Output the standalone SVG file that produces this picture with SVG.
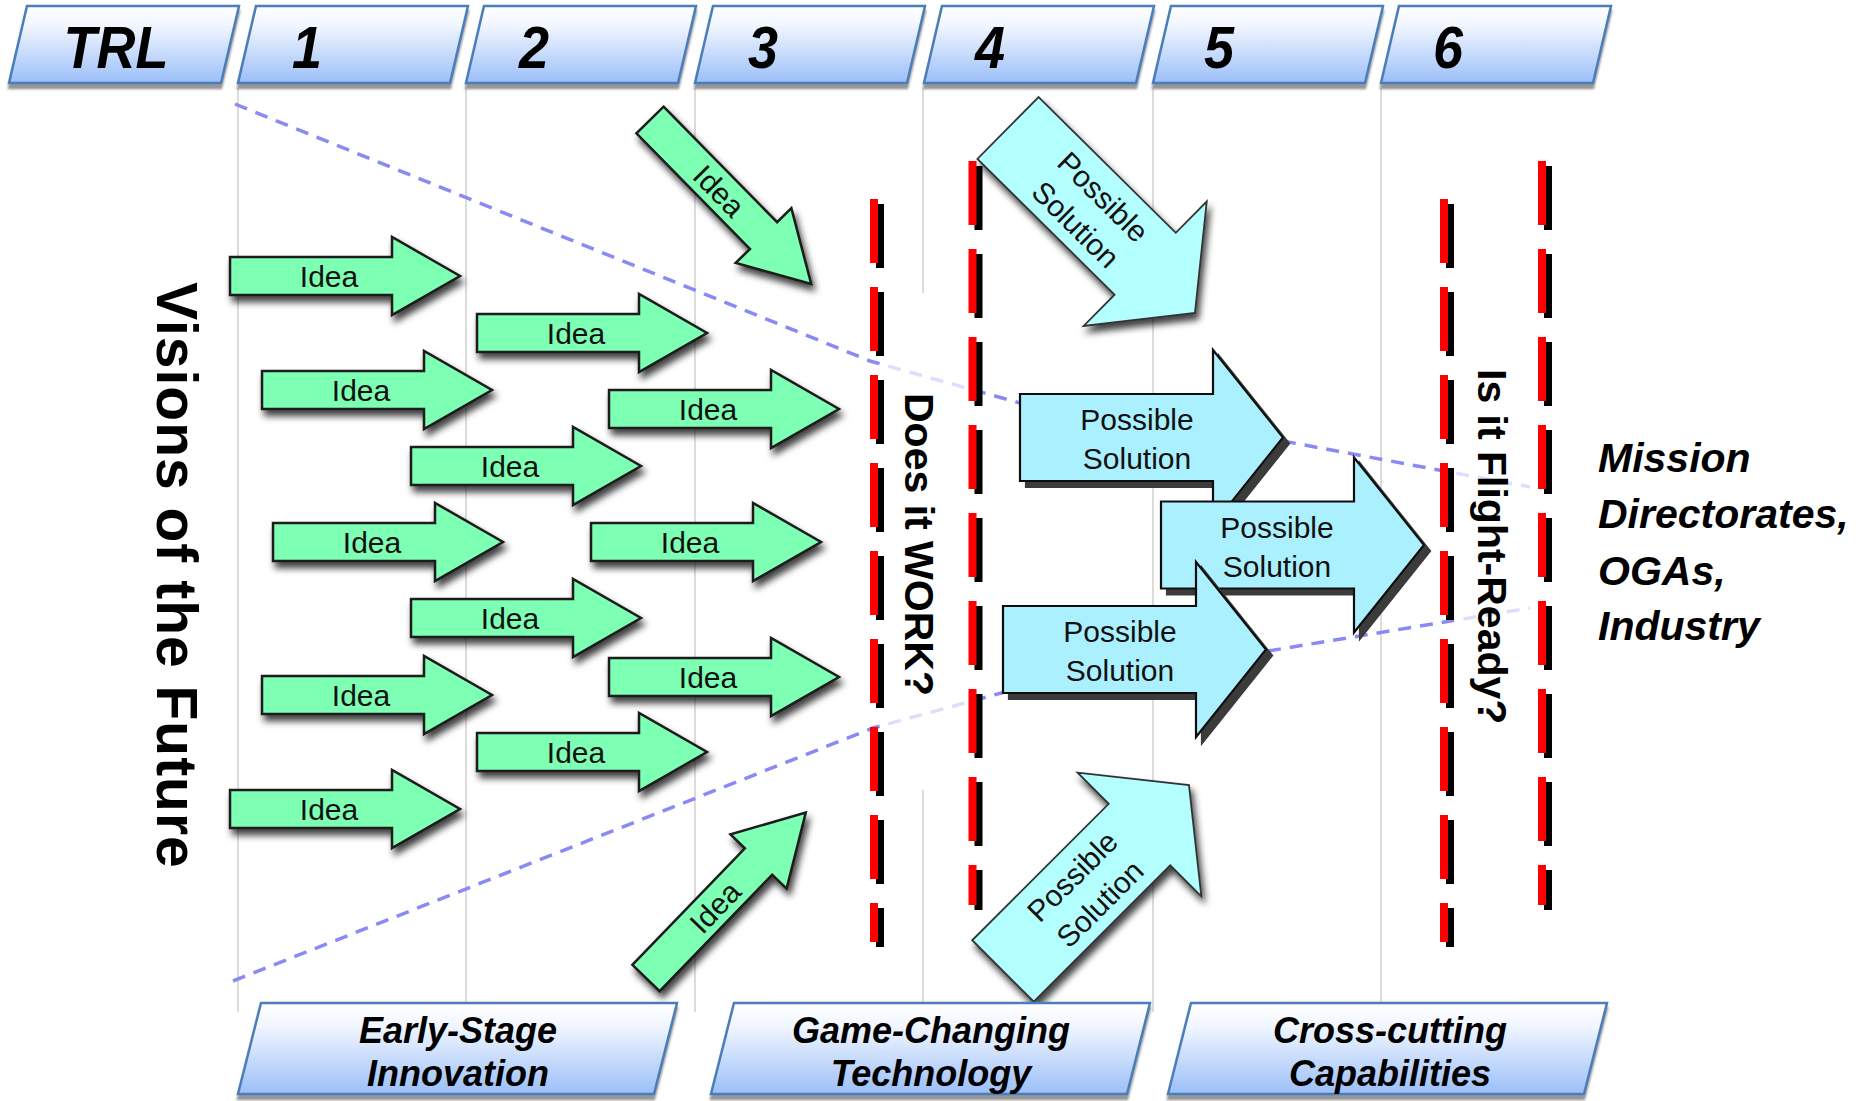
<svg xmlns="http://www.w3.org/2000/svg" width="1860" height="1101" viewBox="0 0 1860 1101">
<defs>
  <linearGradient id="hdr" x1="0" y1="0" x2="0" y2="1">
    <stop offset="0" stop-color="#ffffff"/>
    <stop offset="0.25" stop-color="#f1f6ff"/>
    <stop offset="1" stop-color="#9bbff8"/>
  </linearGradient>
  <filter id="soft" x="-20%" y="-20%" width="150%" height="160%">
    <feDropShadow dx="3" dy="6" stdDeviation="3.5" flood-color="#000" flood-opacity="0.75"/>
  </filter>
  <filter id="hard" x="-10%" y="-10%" width="130%" height="130%">
    <feDropShadow dx="6" dy="6" stdDeviation="0.4" flood-color="#3a3a3a" flood-opacity="1"/>
  </filter>
  <filter id="boxsh" x="-5%" y="-10%" width="115%" height="130%">
    <feDropShadow dx="0" dy="5" stdDeviation="1" flood-color="#8a8a8a" flood-opacity="0.9"/>
  </filter>
  <path id="ia" d="M0,-19 H162 V-39 L230,0 L162,39 V19 H0 Z"/>
  <path id="pa" d="M0,-43.5 H193 V-87.5 L263,0 L193,87.5 V43.5 H0 Z"/>
</defs>
<style>
  .grid{stroke:#c4c4c4;stroke-width:1.2}
  .hbox{fill:url(#hdr);stroke:#4a7ebb;stroke-width:2.5}
  .htxt{font-family:"Liberation Sans",Arial,sans-serif;font-weight:bold;font-style:italic;font-size:54px;text-anchor:middle;fill:#000}
  .btxt{font-family:"Liberation Sans",Arial,sans-serif;font-weight:bold;font-style:italic;font-size:36px;text-anchor:middle;fill:#000}
  .vis{stroke:#8a8af5;stroke-width:3.5;stroke-dasharray:13 9;fill:none}
  .rd{stroke:#ff0000;stroke-width:8;stroke-dasharray:64 24}
  .bk{stroke:#000000;stroke-width:8;stroke-dasharray:64 24}
  .idea{fill:#7dffb4;stroke:#1a1a1a;stroke-width:2.5}
  .ps{fill:#aaf0ff;stroke:#111111;stroke-width:2.2}
  .psd{fill:#b3ffff;stroke:#333333;stroke-width:1.8}
  .lbl{font-family:"Liberation Sans",Arial,sans-serif;font-size:30px;fill:#111111;text-anchor:middle}
  .big{font-family:"Liberation Sans",Arial,sans-serif;font-weight:bold;fill:#000}
  .side{font-family:"Liberation Sans",Arial,sans-serif;font-weight:bold;font-style:italic;font-size:41px;fill:#000}
</style>
<rect x="0" y="0" width="1860" height="1101" fill="#ffffff"/>

<!-- column grid -->
<g id="grid">
  <line class="grid" x1="238" y1="88" x2="238" y2="1012"/>
  <line class="grid" x1="466" y1="88" x2="466" y2="1012"/>
  <line class="grid" x1="695" y1="88" x2="695" y2="1012"/>
  <line class="grid" x1="923" y1="88" x2="923" y2="293"/>
  <line class="grid" x1="923" y1="790" x2="923" y2="1012"/>
  <line class="grid" x1="1153" y1="88" x2="1153" y2="1012"/>
  <line class="grid" x1="1381" y1="88" x2="1381" y2="1012"/>
</g>

<!-- header -->
<g id="hdr-trl"><polygon class="hbox" filter="url(#boxsh)" points="27,6 239,6 221,83 9,83"/><text class="htxt" transform="translate(116,68) scale(1,1.11)">TRL</text></g>
<g id="hdr-1"><polygon class="hbox" filter="url(#boxsh)" points="256,6 468,6 450,83 238,83"/><text class="htxt" transform="translate(307,68) scale(1,1.11)">1</text></g>
<g id="hdr-2"><polygon class="hbox" filter="url(#boxsh)" points="484,6 696,6 678,83 466,83"/><text class="htxt" transform="translate(534,68) scale(1,1.11)">2</text></g>
<g id="hdr-3"><polygon class="hbox" filter="url(#boxsh)" points="713,6 925,6 907,83 695,83"/><text class="htxt" transform="translate(763,68) scale(1,1.11)">3</text></g>
<g id="hdr-4"><polygon class="hbox" filter="url(#boxsh)" points="942,6 1154,6 1136,83 924,83"/><text class="htxt" transform="translate(990,68) scale(1,1.11)">4</text></g>
<g id="hdr-5"><polygon class="hbox" filter="url(#boxsh)" points="1171,6 1383,6 1365,83 1153,83"/><text class="htxt" transform="translate(1219,68) scale(1,1.11)">5</text></g>
<g id="hdr-6"><polygon class="hbox" filter="url(#boxsh)" points="1399,6 1611,6 1593,83 1381,83"/><text class="htxt" transform="translate(1448,68) scale(1,1.11)">6</text></g>

<!-- connectors: funnel dashed lines -->
<g id="connectors">
  <polyline class="vis" points="235,104 870,361 1020,403"/>
  <line class="vis" x1="1283" y1="441" x2="1530" y2="487"/>
  <polyline class="vis" points="233,981 873,728 1005,692"/>
  <line class="vis" x1="1268" y1="651" x2="1530" y2="608"/>
</g>

<rect x="888" y="293" width="78" height="497" fill="#ffffff" fill-opacity="0.72"/>
<rect x="1454" y="355" width="82" height="380" fill="#ffffff" fill-opacity="0.72"/>

<!-- gates -->
<g id="gate-1"><line class="bk" x1="880" y1="204" x2="880" y2="947"/><line class="rd" x1="874" y1="199" x2="874" y2="942"/></g>
<g id="gate-2"><line class="bk" x1="978.5" y1="166" x2="978.5" y2="910"/><line class="rd" x1="972.5" y1="161" x2="972.5" y2="905"/></g>
<g id="gate-3"><line class="bk" x1="1450" y1="204" x2="1450" y2="947"/><line class="rd" x1="1444" y1="199" x2="1444" y2="942"/></g>
<g id="gate-4"><line class="bk" x1="1548" y1="166" x2="1548" y2="910"/><line class="rd" x1="1542" y1="161" x2="1542" y2="905"/></g>

<!-- idea arrows -->
<g id="idea-1"><use href="#ia" class="idea" filter="url(#soft)" transform="translate(230,276)"/><text class="lbl" x="329" y="287">Idea</text></g>
<g id="idea-2"><use href="#ia" class="idea" filter="url(#soft)" transform="translate(477,333)"/><text class="lbl" x="576" y="344">Idea</text></g>
<g id="idea-3"><use href="#ia" class="idea" filter="url(#soft)" transform="translate(262,390)"/><text class="lbl" x="361" y="401">Idea</text></g>
<g id="idea-4"><use href="#ia" class="idea" filter="url(#soft)" transform="translate(609,409)"/><text class="lbl" x="708" y="420">Idea</text></g>
<g id="idea-5"><use href="#ia" class="idea" filter="url(#soft)" transform="translate(411,466)"/><text class="lbl" x="510" y="477">Idea</text></g>
<g id="idea-6"><use href="#ia" class="idea" filter="url(#soft)" transform="translate(273,542)"/><text class="lbl" x="372" y="553">Idea</text></g>
<g id="idea-7"><use href="#ia" class="idea" filter="url(#soft)" transform="translate(591,542)"/><text class="lbl" x="690" y="553">Idea</text></g>
<g id="idea-8"><use href="#ia" class="idea" filter="url(#soft)" transform="translate(411,618)"/><text class="lbl" x="510" y="629">Idea</text></g>
<g id="idea-9"><use href="#ia" class="idea" filter="url(#soft)" transform="translate(609,677)"/><text class="lbl" x="708" y="688">Idea</text></g>
<g id="idea-10"><use href="#ia" class="idea" filter="url(#soft)" transform="translate(262,695)"/><text class="lbl" x="361" y="706">Idea</text></g>
<g id="idea-11"><use href="#ia" class="idea" filter="url(#soft)" transform="translate(477,752)"/><text class="lbl" x="576" y="763">Idea</text></g>
<g id="idea-12"><use href="#ia" class="idea" filter="url(#soft)" transform="translate(230,809)"/><text class="lbl" x="329" y="820">Idea</text></g>
<g id="idea-13">
  <g filter="url(#soft)"><use href="#ia" class="idea" transform="translate(650,120) rotate(45.5)"/></g>
  <text class="lbl" transform="translate(650,120) rotate(45.5)" x="99" y="11">Idea</text>
</g>
<g id="idea-14">
  <g filter="url(#soft)"><use href="#ia" class="idea" transform="translate(646,978) rotate(-46)"/></g>
  <text class="lbl" transform="translate(646,978) rotate(-46)" x="99" y="11">Idea</text>
</g>

<!-- possible solution arrows -->
<g id="ps-1"><use href="#pa" class="ps" filter="url(#hard)" transform="translate(1020,437.5)"/><text class="lbl" x="1137" y="430">Possible</text><text class="lbl" x="1137" y="469">Solution</text></g>
<g id="ps-2"><use href="#pa" class="ps" filter="url(#hard)" transform="translate(1161,545)"/><text class="lbl" x="1277" y="538">Possible</text><text class="lbl" x="1277" y="577">Solution</text></g>
<g id="ps-3"><use href="#pa" class="ps" filter="url(#hard)" transform="translate(1003,649.5)"/><text class="lbl" x="1120" y="642">Possible</text><text class="lbl" x="1120" y="681">Solution</text></g>
<g id="ps-4">
  <g filter="url(#soft)"><use href="#pa" class="psd" transform="translate(1008,128) rotate(44.7)"/></g>
  <g transform="translate(1008,128) rotate(44.7)"><text class="lbl" x="116" y="-7.5">Possible</text><text class="lbl" x="116" y="31.5">Solution</text></g>
</g>
<g id="ps-5">
  <g filter="url(#soft)"><use href="#pa" class="psd" transform="translate(1003,971) rotate(-45)"/></g>
  <g transform="translate(1003,971) rotate(-45)"><text class="lbl" x="116" y="-7.5">Possible</text><text class="lbl" x="116" y="31.5">Solution</text></g>
</g>

<!-- labels -->
<g id="visions"><text class="big" font-size="57" letter-spacing="1" transform="translate(157,282) rotate(90)">Visions of the Future</text></g>
<g id="does-it-work"><text class="big" font-size="41" transform="translate(905,393) rotate(90)">Does it WORK?</text></g>
<g id="flight-ready"><text class="big" font-size="41" transform="translate(1478,369) rotate(90)">Is it Flight-Ready?</text></g>
<g id="customers">
  <text class="side" x="1598" y="472">Mission</text>
  <text class="side" x="1598" y="528">Directorates,</text>
  <text class="side" x="1598" y="585">OGAs,</text>
  <text class="side" x="1598" y="640">Industry</text>
</g>

<!-- bottom programme boxes -->
<g id="early-stage"><polygon class="hbox" filter="url(#boxsh)" points="261,1003 677,1003 654,1094 238,1094"/><text class="btxt" x="458" y="1043">Early-Stage</text><text class="btxt" x="458" y="1086">Innovation</text></g>
<g id="game-changing"><polygon class="hbox" filter="url(#boxsh)" points="734,1003 1150,1003 1127,1094 711,1094"/><text class="btxt" x="931" y="1043">Game-Changing</text><text class="btxt" x="931" y="1086">Technology</text></g>
<g id="cross-cutting"><polygon class="hbox" filter="url(#boxsh)" points="1191,1003 1607,1003 1584,1094 1168,1094"/><text class="btxt" x="1390" y="1043">Cross-cutting</text><text class="btxt" x="1390" y="1086">Capabilities</text></g>
</svg>
